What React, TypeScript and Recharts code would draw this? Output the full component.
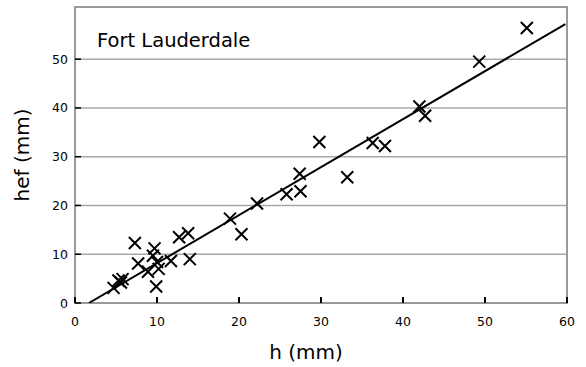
import { ScatterChart, Scatter, XAxis, YAxis, CartesianGrid, ReferenceArea, Customized } from 'recharts';

// measured points: h (mm) vs hef (mm)
const hValues = [4.7, 5.3, 5.6, 5.8, 7.3, 7.7, 8.9, 9.5, 9.7, 9.9, 10.0, 10.2, 11.7, 12.7, 13.8, 14.0, 18.9, 20.3, 22.2, 25.8, 27.4, 27.5, 29.8, 33.2, 36.3, 37.8, 42.0, 42.7, 49.3, 55.1];
const hefValues = [3.1, 4.6, 4.2, 4.9, 12.3, 8.1, 6.4, 9.7, 11.2, 3.4, 8.4, 7.0, 8.6, 13.5, 14.3, 9.0, 17.3, 14.1, 20.4, 22.3, 26.5, 22.9, 33.0, 25.8, 32.8, 32.2, 40.3, 38.4, 49.5, 56.4];

// fitted trend line end points
const trendH = [1.7, 59.8];
const trendHef = [0, 57.2];

const xTicks = [0, 10, 20, 30, 40, 50, 60];
const yTicks = [0, 10, 20, 30, 40, 50];

const points = hValues.map((h, i) => ({ h, hef: hefValues[i] }));
const trend = trendH.map((h, i) => ({ h, hef: trendHef[i] }));

const FONT = '"DejaVu Sans", Verdana, sans-serif';

const XMark = (props: any) => {
    const { cx, cy } = props;
    const s = 6;
    return (
        <path
            d={`M${cx - s},${cy - s}L${cx + s},${cy + s}M${cx - s},${cy + s}L${cx + s},${cy - s}`}
            stroke="#000"
            strokeWidth={2}
            fill="none"
        />
    );
};

const XTick = (props: any) => {
    const { x, y, payload } = props;
    return (
        <g>
            <line x1={x} x2={x} y1={y} y2={y - 6} stroke="#000" strokeWidth={2} />
            <text x={x} y={y + 23} textAnchor="middle" fontSize={12.5} fontFamily={FONT} fill="#000">
                {payload.value}
            </text>
        </g>
    );
};

const YTick = (props: any) => {
    const { x, y, payload } = props;
    return (
        <g>
            <line x1={x} x2={x + 6} y1={y} y2={y} stroke="#000" strokeWidth={1.5} />
            <text x={x - 7} y={y + 4.5} textAnchor="end" fontSize={12.5} fontFamily={FONT} fill="#000">
                {payload.value}
            </text>
        </g>
    );
};

export default function App() {
    return (
        <div style={{ position: 'absolute', left: 0, top: 0, width: 586, height: 367, background: '#fff' }}>
            <ScatterChart width={586} height={367} margin={{ top: 7, right: 19, bottom: 0, left: 0 }}>
                <CartesianGrid vertical={false} stroke="#a8a8a8" strokeWidth={1.5} />
                <XAxis
                    type="number"
                    dataKey="h"
                    domain={[0, 60]}
                    ticks={xTicks}
                    height={64}
                    tickSize={0}
                    tickMargin={0}
                    tick={<XTick />}
                    axisLine={false}
                    allowDataOverflow
                    label={{ value: 'h (mm)', position: 'insideBottom', offset: 8, dx: -15, fontSize: 20, fontFamily: FONT, fill: '#000' }}
                />
                <YAxis
                    type="number"
                    dataKey="hef"
                    domain={[0, 60.7]}
                    ticks={yTicks}
                    width={75}
                    tickSize={0}
                    tickMargin={0}
                    tick={<YTick />}
                    axisLine={false}
                    allowDataOverflow
                    label={{ value: 'hef (mm)', angle: -90, position: 'insideLeft', offset: 22, textAnchor: 'middle', fontSize: 20, fontFamily: FONT, fill: '#000' }}
                />
                <ReferenceArea x1={0} x2={60} y1={0} y2={60.7} fill="none" stroke="#999" strokeWidth={2} ifOverflow="visible" />
                <Scatter data={trend} line={{ stroke: '#000', strokeWidth: 2 }} shape={() => <g />} isAnimationActive={false} />
                <Scatter data={points} shape={<XMark />} isAnimationActive={false} />
                <Customized
                    component={() => (
                        <text x={97} y={47} fontSize={19.5} fontFamily={FONT} fill="#000">
                            Fort Lauderdale
                        </text>
                    )}
                />
            </ScatterChart>
        </div>
    );
}
